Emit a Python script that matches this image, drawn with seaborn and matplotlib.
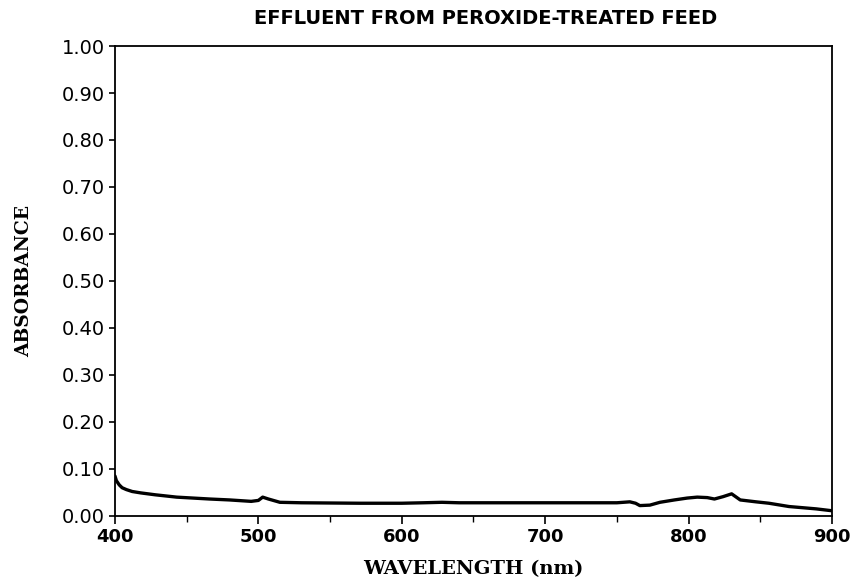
import numpy as np
import pandas as pd
import matplotlib
matplotlib.use("Agg")
import matplotlib.pyplot as plt
from matplotlib.ticker import MultipleLocator, FormatStrFormatter
import seaborn as sns

# spectrum
wavelength = [400, 401, 403, 405, 408, 412, 418, 428, 443, 466, 480, 495, 500, 503, 507,
              515, 530, 571, 600, 615, 628, 640, 660, 700, 731, 750, 759, 763, 766,
              773, 780, 790, 799, 806, 813, 818, 824, 830, 836, 847, 856, 870, 889, 900]
absorbance = [0.085, 0.075, 0.066, 0.060, 0.056, 0.052, 0.049, 0.045, 0.040, 0.036, 0.034,
              0.031, 0.033, 0.040, 0.036, 0.029, 0.028, 0.027, 0.027, 0.028, 0.029, 0.028,
              0.028, 0.028, 0.028, 0.028, 0.030, 0.027, 0.022, 0.023, 0.029, 0.034,
              0.038, 0.040, 0.039, 0.036, 0.041, 0.047, 0.034, 0.030, 0.027, 0.020,
              0.015, 0.011]

df = pd.DataFrame({"wavelength": wavelength, "absorbance": absorbance})

sns.set_style("ticks", {"text.color": "black", "axes.labelcolor": "black",
                        "xtick.color": "black", "ytick.color": "black"})
plt.rcParams["font.family"] = ["DejaVu Sans"]

fig = plt.figure(figsize=(8.56, 5.81), dpi=100)
ax = fig.add_axes([0.1343, 0.112, 0.8377, 0.8088])

sns.lineplot(data=df, x="wavelength", y="absorbance", ax=ax, color="black", linewidth=2.4)

ax.set_xlim(400, 900)
ax.set_ylim(0, 1.0)
ax.xaxis.set_major_locator(MultipleLocator(100))
ax.xaxis.set_minor_locator(MultipleLocator(50))
ax.yaxis.set_major_locator(MultipleLocator(0.1))
ax.yaxis.set_major_formatter(FormatStrFormatter("%.2f"))

for s in ax.spines.values():
    s.set_color("black")
    s.set_linewidth(1.3)

ax.tick_params(axis="x", which="major", length=6, width=1.2, labelsize=13, direction="out", pad=3)
ax.tick_params(axis="x", which="minor", length=4, width=1.0, direction="out")
ax.tick_params(axis="y", which="major", length=4.5, width=1.2, labelsize=14, direction="out", pad=3)
for lbl in ax.get_xticklabels():
    lbl.set_fontweight("bold")

ax.set_xlabel("WAVELENGTH (nm)", fontfamily="DejaVu Serif", fontweight="bold", fontsize=14,
              labelpad=10, color="black")
ax.set_ylabel("ABSORBANCE", fontfamily="DejaVu Serif", fontweight="bold", fontsize=13.5,
              labelpad=20, color="black")
ax.set_title("EFFLUENT FROM PEROXIDE-TREATED FEED", fontsize=14, fontweight="bold", pad=16,
             color="black")
ax.title.set_x(0.517)

fig.savefig("out.png", dpi=100)
